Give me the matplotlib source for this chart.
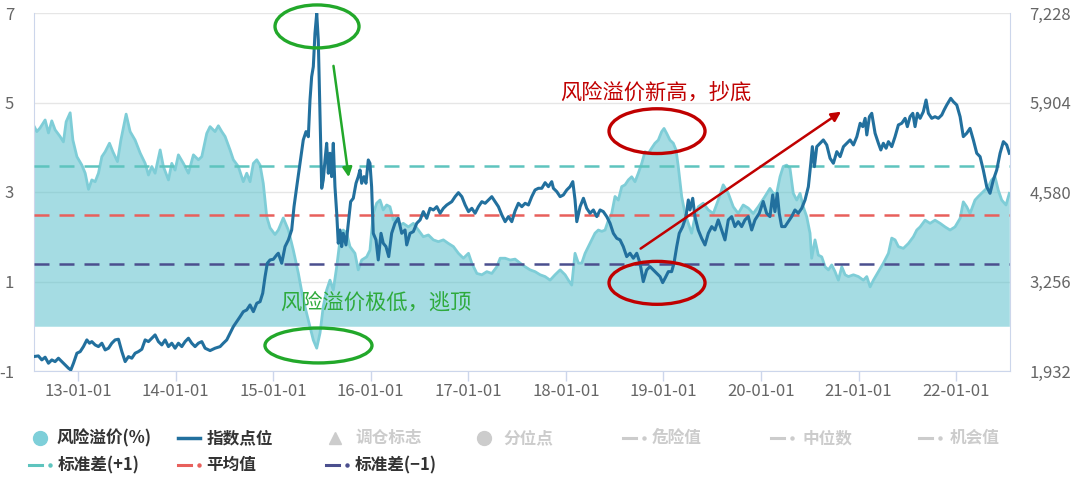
import datetime as dt
import numpy as np
import matplotlib
matplotlib.use("Agg")
import matplotlib.pyplot as plt
import matplotlib.dates as mdates
from matplotlib.patches import Ellipse
from matplotlib.lines import Line2D
from matplotlib.ticker import FuncFormatter, FixedLocator

plt.rcParams['font.family'] = ['Noto Sans CJK SC', 'DejaVu Sans']
plt.rcParams['axes.unicode_minus'] = False

# ---------------- data (time as decimal years) ----------------
premium_years = [
    2012.542, 2012.577, 2012.610, 2012.662, 2012.696, 2012.730, 2012.764, 2012.815, 2012.849, 2012.877,
    2012.918, 2012.946, 2012.987, 2013.038, 2013.072, 2013.106, 2013.140, 2013.174, 2013.208, 2013.243,
    2013.277, 2013.321, 2013.356, 2013.403, 2013.438, 2013.492, 2013.533, 2013.584, 2013.636, 2013.687,
    2013.721, 2013.755, 2013.789, 2013.841, 2013.874, 2013.926, 2013.960, 2013.994, 2014.028, 2014.079,
    2014.131, 2014.182, 2014.233, 2014.268, 2014.319, 2014.353, 2014.404, 2014.438, 2014.473, 2014.507,
    2014.558, 2014.592, 2014.643, 2014.694, 2014.729, 2014.763, 2014.797, 2014.832, 2014.866, 2014.899,
    2014.934, 2014.968, 2015.019, 2015.053, 2015.104, 2015.156, 2015.207, 2015.258, 2015.309, 2015.361,
    2015.412, 2015.447, 2015.481, 2015.514, 2015.549, 2015.583, 2015.617, 2015.652, 2015.686, 2015.719,
    2015.754, 2015.788, 2015.839, 2015.873, 2015.908, 2015.959, 2015.993, 2016.027, 2016.062, 2016.096,
    2016.129, 2016.164, 2016.198, 2016.232, 2016.267, 2016.301, 2016.334, 2016.386, 2016.437, 2016.488,
    2016.539, 2016.591, 2016.642, 2016.693, 2016.744, 2016.796, 2016.847, 2016.898, 2016.949, 2017.001,
    2017.035, 2017.087, 2017.138, 2017.189, 2017.240, 2017.292, 2017.326, 2017.377, 2017.428, 2017.479,
    2017.531, 2017.582, 2017.633, 2017.684, 2017.736, 2017.787, 2017.838, 2017.889, 2017.941, 2017.992,
    2018.026, 2018.060, 2018.094, 2018.128, 2018.163, 2018.197, 2018.231, 2018.265, 2018.299, 2018.333,
    2018.368, 2018.402, 2018.436, 2018.470, 2018.504, 2018.538, 2018.573, 2018.607, 2018.641, 2018.675,
    2018.709, 2018.743, 2018.778, 2018.812, 2018.846, 2018.880, 2018.914, 2018.948, 2018.983, 2019.007,
    2019.034, 2019.068, 2019.102, 2019.130, 2019.153, 2019.188, 2019.222, 2019.256, 2019.290, 2019.324,
    2019.358, 2019.409, 2019.461, 2019.512, 2019.563, 2019.614, 2019.666, 2019.717, 2019.768, 2019.819,
    2019.871, 2019.922, 2019.973, 2020.042, 2020.093, 2020.127, 2020.162, 2020.196, 2020.229, 2020.264,
    2020.298, 2020.332, 2020.367, 2020.401, 2020.434, 2020.469, 2020.503, 2020.520, 2020.554, 2020.588,
    2020.623, 2020.657, 2020.691, 2020.725, 2020.759, 2020.793, 2020.828, 2020.862, 2020.896, 2020.947,
    2020.998, 2021.049, 2021.084, 2021.118, 2021.152, 2021.203, 2021.254, 2021.306, 2021.340, 2021.374,
    2021.408, 2021.459, 2021.511, 2021.562, 2021.597, 2021.631, 2021.682, 2021.733, 2021.784, 2021.836,
    2021.887, 2021.938, 2021.989, 2022.041, 2022.074, 2022.109, 2022.143, 2022.194, 2022.228, 2022.279,
    2022.331, 2022.365, 2022.399, 2022.433, 2022.468, 2022.512, 2022.546,
]
premium_values = [
    4.50, 4.35, 4.43, 4.61, 4.32, 4.59, 4.39, 4.24, 4.12, 4.57,
    4.77, 4.16, 3.79, 3.60, 3.42, 3.06, 3.27, 3.23, 3.42, 3.79,
    3.90, 4.09, 3.90, 3.68, 4.16, 4.74, 4.35, 4.16, 3.87, 3.64,
    3.38, 3.57, 3.42, 3.94, 3.57, 3.27, 3.64, 3.49, 3.83, 3.64,
    3.42, 3.83, 3.72, 3.79, 4.31, 4.46, 4.35, 4.48, 4.35, 4.24,
    3.94, 3.72, 3.57, 3.23, 3.42, 3.23, 3.64, 3.72, 3.60, 3.19,
    2.45, 2.20, 2.05, 2.15, 2.42, 2.15, 1.70, 1.19, 0.59, 0.14,
    -0.31, -0.49, -0.15, 0.44, 0.81, 1.03, 0.81, 1.33, 1.93, 2.15,
    2.08, 1.78, 1.63, 1.26, 1.48, 1.55, 1.70, 2.52, 2.75, 2.82,
    2.60, 2.71, 2.67, 2.37, 2.45, 2.26, 2.30, 2.22, 2.30, 2.15,
    2.00, 2.04, 1.93, 1.89, 1.93, 1.85, 1.78, 1.63, 1.52, 1.63,
    1.41, 1.18, 1.15, 1.22, 1.18, 1.33, 1.52, 1.52, 1.48, 1.50,
    1.41, 1.33, 1.26, 1.22, 1.15, 1.11, 1.03, 1.15, 1.26, 1.15,
    1.03, 0.92, 1.63, 1.41, 1.41, 1.63, 1.78, 1.93, 2.08, 2.15,
    2.12, 2.15, 2.37, 2.52, 2.90, 2.82, 3.12, 3.16, 3.27, 3.34,
    3.23, 3.42, 3.64, 3.90, 3.86, 3.98, 4.09, 4.16, 4.35, 4.42,
    4.31, 4.16, 4.09, 3.94, 3.57, 2.90, 2.52, 2.30, 2.08, 2.45,
    2.67, 2.75, 2.60, 2.52, 2.82, 3.16, 2.97, 2.67, 2.52, 2.71,
    2.64, 2.52, 2.67, 2.90, 3.08, 2.97, 2.97, 3.34, 3.57, 3.60,
    3.53, 2.97, 2.82, 2.97, 2.67, 2.45, 2.08, 1.52, 1.93, 1.59,
    1.55, 1.33, 1.26, 1.37, 1.22, 1.03, 1.33, 1.15, 1.11, 1.15,
    1.11, 1.03, 1.11, 0.88, 1.03, 1.22, 1.41, 1.63, 1.97, 1.93,
    1.78, 1.74, 1.85, 2.00, 2.15, 2.22, 2.37, 2.30, 2.37, 2.30,
    2.22, 2.15, 2.22, 2.41, 2.78, 2.67, 2.52, 2.82, 2.90, 3.01,
    3.12, 3.27, 3.34, 3.04, 2.82, 2.71, 2.97,
]

index_years = [
    2012.542, 2012.593, 2012.628, 2012.662, 2012.696, 2012.730, 2012.764, 2012.798, 2012.833, 2012.867,
    2012.901, 2012.925, 2012.952, 2012.987, 2013.021, 2013.054, 2013.089, 2013.116, 2013.140, 2013.174,
    2013.208, 2013.243, 2013.277, 2013.311, 2013.345, 2013.379, 2013.413, 2013.448, 2013.482, 2013.516,
    2013.550, 2013.584, 2013.618, 2013.653, 2013.687, 2013.721, 2013.755, 2013.789, 2013.823, 2013.858,
    2013.892, 2013.926, 2013.960, 2013.994, 2014.028, 2014.063, 2014.097, 2014.131, 2014.165, 2014.199,
    2014.233, 2014.268, 2014.302, 2014.353, 2014.404, 2014.456, 2014.489, 2014.524, 2014.558, 2014.592,
    2014.627, 2014.661, 2014.694, 2014.729, 2014.763, 2014.797, 2014.832, 2014.866, 2014.893, 2014.917,
    2014.940, 2014.968, 2015.002, 2015.037, 2015.053, 2015.088, 2015.122, 2015.156, 2015.190, 2015.214,
    2015.242, 2015.276, 2015.309, 2015.337, 2015.361, 2015.378, 2015.395, 2015.412, 2015.429, 2015.447,
    2015.463, 2015.481, 2015.498, 2015.514, 2015.532, 2015.549, 2015.566, 2015.583, 2015.600, 2015.617,
    2015.634, 2015.652, 2015.668, 2015.686, 2015.703, 2015.719, 2015.747, 2015.771, 2015.795, 2015.822,
    2015.850, 2015.873, 2015.891, 2015.908, 2015.932, 2015.952, 2015.976, 2015.993, 2016.010, 2016.027,
    2016.055, 2016.078, 2016.106, 2016.129, 2016.157, 2016.185, 2016.215, 2016.249, 2016.283, 2016.318,
    2016.352, 2016.369, 2016.403, 2016.437, 2016.472, 2016.506, 2016.539, 2016.574, 2016.608, 2016.642,
    2016.677, 2016.711, 2016.744, 2016.779, 2016.830, 2016.864, 2016.898, 2016.933, 2016.967, 2017.001,
    2017.035, 2017.069, 2017.103, 2017.138, 2017.172, 2017.206, 2017.240, 2017.274, 2017.308, 2017.343,
    2017.377, 2017.411, 2017.445, 2017.479, 2017.513, 2017.548, 2017.582, 2017.616, 2017.650, 2017.684,
    2017.718, 2017.753, 2017.787, 2017.821, 2017.855, 2017.872, 2017.907, 2017.941, 2017.974, 2018.009,
    2018.043, 2018.071, 2018.094, 2018.112, 2018.146, 2018.180, 2018.214, 2018.248, 2018.282, 2018.317,
    2018.351, 2018.384, 2018.419, 2018.453, 2018.487, 2018.522, 2018.556, 2018.589, 2018.624, 2018.658,
    2018.692, 2018.727, 2018.761, 2018.794, 2018.829, 2018.863, 2018.897, 2018.932, 2018.966, 2018.993,
    2019.017, 2019.051, 2019.085, 2019.109, 2019.137, 2019.163, 2019.198, 2019.232, 2019.256, 2019.273,
    2019.301, 2019.324, 2019.358, 2019.393, 2019.427, 2019.461, 2019.496, 2019.529, 2019.563, 2019.598,
    2019.632, 2019.666, 2019.701, 2019.734, 2019.768, 2019.803, 2019.837, 2019.871, 2019.906, 2019.940,
    2019.984, 2020.024, 2020.059, 2020.093, 2020.121, 2020.144, 2020.168, 2020.188, 2020.213, 2020.247,
    2020.281, 2020.315, 2020.349, 2020.383, 2020.418, 2020.452, 2020.486, 2020.511, 2020.527, 2020.548,
    2020.572, 2020.606, 2020.639, 2020.674, 2020.708, 2020.742, 2020.777, 2020.811, 2020.845, 2020.879,
    2020.913, 2020.947, 2020.982, 2021.016, 2021.043, 2021.067, 2021.084, 2021.111, 2021.135, 2021.169,
    2021.203, 2021.228, 2021.254, 2021.282, 2021.306, 2021.340, 2021.374, 2021.408, 2021.443, 2021.477,
    2021.500, 2021.528, 2021.556, 2021.579, 2021.603, 2021.631, 2021.664, 2021.692, 2021.716, 2021.750,
    2021.784, 2021.818, 2021.853, 2021.877, 2021.904, 2021.945, 2021.972, 2022.007, 2022.041, 2022.074,
    2022.109, 2022.143, 2022.177, 2022.212, 2022.246, 2022.279, 2022.314, 2022.348, 2022.382, 2022.417,
    2022.451, 2022.485, 2022.519, 2022.546,
]
index_values = [
    2145, 2155, 2096, 2136, 2047, 2096, 2071, 2121, 2071, 2022,
    1973, 1948, 2047, 2195, 2219, 2293, 2392, 2343, 2367, 2318,
    2293, 2343, 2244, 2269, 2343, 2392, 2402, 2219, 2071, 2145,
    2121, 2195, 2219, 2254, 2392, 2367, 2417, 2466, 2367, 2318,
    2392, 2293, 2343, 2269, 2343, 2293, 2367, 2417, 2343, 2293,
    2343, 2367, 2269, 2234, 2269, 2293, 2343, 2392, 2491, 2589,
    2663, 2736, 2810, 2835, 2909, 2810, 2934, 2958, 3083, 3328,
    3526, 3575, 3585, 3650, 3674, 3526, 3772, 3871, 4018, 4363,
    4659, 5005, 5350, 5473, 5398, 5941, 6286, 6434, 6928, 7223,
    6829, 5694, 4635, 4758, 5054, 5301, 4857, 5153, 4807, 5301,
    4659, 4266, 3822, 4018, 3772, 3969, 3797, 4118, 4437, 4487,
    4709, 4807, 4906, 4709, 4807, 4709, 5054, 5005, 4659, 3969,
    3871, 3575, 3969, 3822, 3772, 3624, 3969, 4118, 4191, 3969,
    4018, 3797, 3969, 3994, 4118, 4167, 4290, 4191, 4339, 4314,
    4363, 4266, 4339, 4388, 4437, 4511, 4570, 4511, 4388, 4290,
    4339, 4266, 4363, 4437, 4413, 4462, 4511, 4437, 4363, 4240,
    4141, 4216, 4141, 4300, 4413, 4363, 4413, 4388, 4511, 4610,
    4635, 4635, 4718, 4659, 4733, 4635, 4585, 4511, 4536, 4610,
    4659, 4733, 4462, 4141, 4363, 4487, 4339, 4266, 4314, 4216,
    4314, 4290, 4216, 4118, 3969, 3895, 3871, 3772, 3624, 3674,
    3600, 3674, 3526, 3254, 3427, 3476, 3427, 3378, 3328, 3239,
    3304, 3402, 3402, 3526, 3772, 3969, 4068, 4216, 4462, 4314,
    4487, 4216, 4018, 3895, 3797, 3969, 4068, 4018, 4167, 4018,
    3871, 4167, 4216, 4068, 4141, 4068, 4167, 4216, 4018, 4167,
    4266, 4440, 4266, 4216, 4536, 4290, 4561, 4266, 4068, 4068,
    4141, 4216, 4314, 4266, 4339, 4462, 4659, 5005, 5251, 4955,
    5251, 5301, 5350, 5276, 5079, 5005, 5177, 5103, 5251, 5301,
    5350, 5276, 5399, 5597, 5547, 5670, 5424, 5694, 5744, 5449,
    5301, 5202, 5301, 5227, 5325, 5251, 5399, 5572, 5597, 5670,
    5547, 5694, 5744, 5547, 5744, 5670, 5768, 5941, 5744, 5670,
    5694, 5670, 5719, 5793, 5867, 5966, 5916, 5867, 5694, 5399,
    5449, 5522, 5350, 5153, 5103, 4906, 4659, 4561, 4758, 4906,
    5153, 5325, 5276, 5153,
]

premium_mean = 2.48
premium_std = 1.09

left_ticks = [-1, 1, 3, 5, 7]
right_ticks = [1932, 3256, 4580, 5904, 7228]
x_tick_years = list(range(2013, 2023))
x_range_years = (2012.543, 2022.553)

assert len(premium_years) == len(premium_values), (len(premium_years), len(premium_values))
assert len(index_years) == len(index_values), (len(index_years), len(index_values))


def ynum(y):
    yr = int(np.floor(y))
    start = dt.datetime(yr, 1, 1)
    end = dt.datetime(yr + 1, 1, 1)
    return mdates.date2num(start + (end - start) * (y - yr))


def days(span_years):
    return span_years * 365.25


px = np.array([ynum(t) for t in premium_years])
pv = np.array(premium_values)
ix = np.array([ynum(t) for t in index_years])
iv = np.array(index_values)

# ---------------- figure ----------------
W, H = 1080, 482
fig = plt.figure(figsize=(W / 100, H / 100), dpi=100)
ax = fig.add_axes([33.5 / W, 1 - 371 / H, (1010 - 33.5) / W, (371 - 13) / H])
ax2 = ax.twinx()

axis_col = '#ccd6eb'
grid_col = '#e6e6e6'
tick_col = '#666666'

# risk premium area
ax.fill_between(px, pv, 0, color='#5BC0CC', alpha=0.55, lw=0, zorder=1)
ax.plot(px, pv, color='#7ECDD7', lw=2, zorder=2)

# reference levels
ax.axhline(premium_mean + premium_std, color='#5EC4BE', lw=1.8, ls=(0, (6, 4)), zorder=3)
ax.axhline(premium_mean, color='#E8605C', lw=1.8, ls=(0, (6, 4)), zorder=3)
ax.axhline(premium_mean - premium_std, color='#4B4F8E', lw=1.8, ls=(0, (6, 4)), zorder=3)

# index line
ax2.plot(ix, iv, color='#22709E', lw=2.2, zorder=3)

# axes formatting
ax.set_xlim(ynum(x_range_years[0]), ynum(x_range_years[1]))
ax.set_ylim(-1, 7)
ax2.set_ylim(1932, 7228)
ax.yaxis.set_major_locator(FixedLocator(left_ticks))
ax.yaxis.set_major_formatter(FuncFormatter(lambda v, p: f'{v:.0f}'))
ax2.yaxis.set_major_locator(FixedLocator(right_ticks))
ax2.yaxis.set_major_formatter(FuncFormatter(lambda v, p: f'{v:,.0f}'))
ax.xaxis.set_major_locator(FixedLocator([ynum(y) for y in x_tick_years]))
ax.xaxis.set_major_formatter(mdates.DateFormatter('%y-%m-%d'))

ax.set_axisbelow(True)
ax.yaxis.grid(True, color=grid_col, lw=1)
ax.tick_params(axis='y', length=0, pad=14, labelsize=12, labelcolor=tick_col)
ax2.tick_params(axis='y', length=0, pad=14, labelsize=12, labelcolor=tick_col)
ax.tick_params(axis='x', length=7, width=1, color=axis_col, pad=1.5, labelsize=12, labelcolor=tick_col)

ax.spines['top'].set_visible(False)
ax2.spines['top'].set_visible(False)
ax.spines['left'].set_color(axis_col)
ax.spines['bottom'].set_color(axis_col)
ax.spines['right'].set_visible(False)
ax2.spines['left'].set_visible(False)
ax2.spines['bottom'].set_visible(False)
ax2.spines['right'].set_color(axis_col)

# ---------------- annotations (in premium-axis coordinates) ----------------
green = '#22A82A'
green_txt = '#2EAA3C'
red = '#C00000'
T = ax.transData

ax2.add_patch(Ellipse((ynum(2015.450), 6.70), days(0.861), 0.96, transform=T,
                      fill=False, ec=green, lw=2.4, clip_on=False, zorder=6))
ax2.add_patch(Ellipse((ynum(2015.465), -0.43), days(1.097), 0.78, transform=T,
                      fill=False, ec=green, lw=2.4, clip_on=False, zorder=6))
ax2.annotate('', xy=(ynum(2015.779), 3.27), xytext=(ynum(2015.615), 5.88),
             xycoords=T, textcoords=T,
             arrowprops=dict(arrowstyle='-|>', color=green, lw=1.8, mutation_scale=14), zorder=6)
ax2.text(ynum(2016.050), 0.53, '风险溢价极低，逃顶', transform=T, color=green_txt,
         fontsize=15.3, ha='center', va='center', zorder=6)

ax2.add_patch(Ellipse((ynum(2018.935), 4.36), days(0.984), 1.0, transform=T,
                      fill=False, ec=red, lw=2.4, clip_on=False, zorder=6))
ax2.add_patch(Ellipse((ynum(2018.935), 0.97), days(0.984), 0.96, transform=T,
                      fill=False, ec=red, lw=2.4, clip_on=False, zorder=6))
ax2.annotate('', xy=(ynum(2020.844), 4.83), xytext=(ynum(2018.743), 1.70),
             xycoords=T, textcoords=T,
             arrowprops=dict(arrowstyle='-|>', color=red, lw=1.8, mutation_scale=14), zorder=6)
ax2.text(ynum(2018.925), 5.21, '风险溢价新高，抄底', transform=T, color=red,
         fontsize=15.3, ha='center', va='center', zorder=6)

# ---------------- legend (drawn in figure pixels) ----------------
def fx(x):
    return x / W


def fy(y):
    return 1 - y / H


active = '#333333'
inactive = '#cccccc'
lg_fs = 12


def leg_text(x, y, s, col):
    fig.text(fx(x), fy(y), s, color=col, fontsize=lg_fs, fontweight='bold', ha='left', va='center')


def leg_dashdot(x0, y, col):
    fig.add_artist(Line2D([fx(x0), fx(x0 + 13)], [fy(y), fy(y)], color=col, lw=2.2))
    fig.add_artist(Line2D([fx(x0 + 21)], [fy(y)], marker='o', ms=2.2, color=col, lw=0))


r1, r2 = 438, 465
fig.add_artist(Line2D([fx(40)], [fy(r1)], marker='o', ms=10, color='#7ECFD9', lw=0))
leg_text(57, r1, '风险溢价(%)', active)
fig.add_artist(Line2D([fx(178), fx(200)], [fy(r1), fy(r1)], color='#22709E', lw=2.5))
leg_text(207, r1, '指数点位', active)
fig.add_artist(Line2D([fx(335)], [fy(r1)], marker='^', ms=9, color=inactive, lw=0))
leg_text(355, r1, '调仓标志', inactive)
fig.add_artist(Line2D([fx(484)], [fy(r1)], marker='o', ms=10, color=inactive, lw=0))
leg_text(503, r1, '分位点', inactive)
leg_dashdot(623, r1, inactive)
leg_text(652, r1, '危险值', inactive)
leg_dashdot(771, r1, inactive)
leg_text(802, r1, '中位数', inactive)
leg_dashdot(919, r1, inactive)
leg_text(950, r1, '机会值', inactive)

leg_dashdot(29, r2, '#5EC4BE')
leg_text(58, r2, '标准差(+1)', active)
leg_dashdot(178, r2, '#E8605C')
leg_text(206, r2, '平均值', active)
leg_dashdot(326, r2, '#4B4F8E')
leg_text(355, r2, '标准差(−1)', active)

fig.savefig('out.png', dpi=100)
